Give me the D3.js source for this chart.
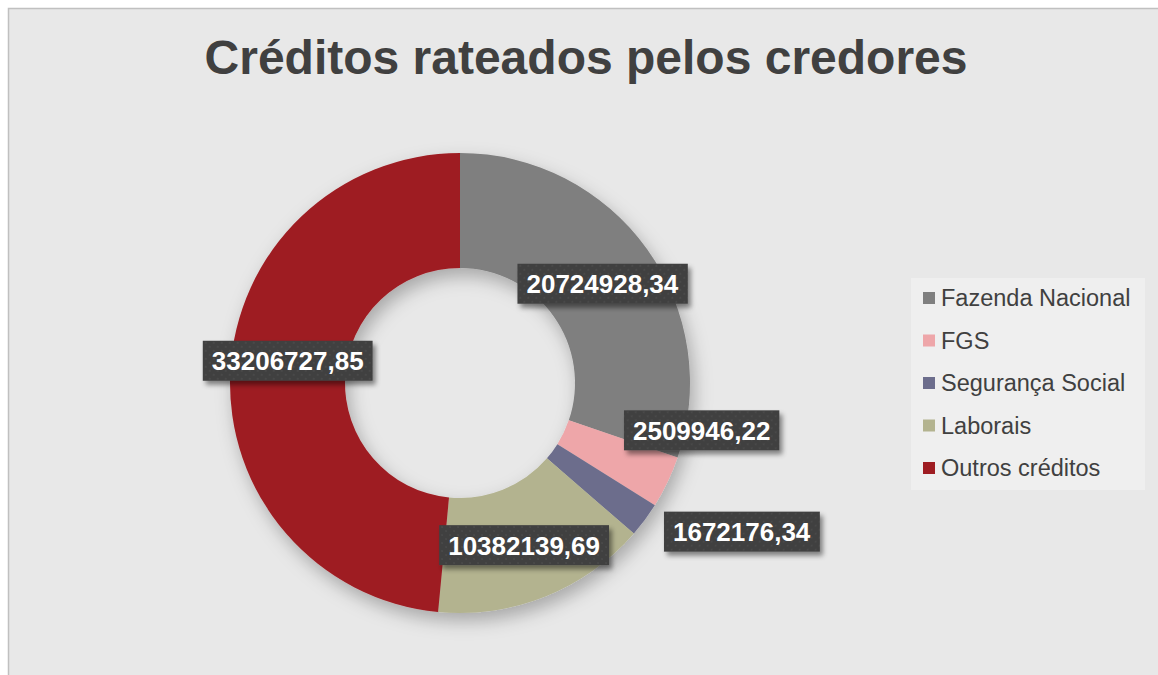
<!DOCTYPE html>
<html>
<head>
<meta charset="utf-8">
<script src="https://cdn.jsdelivr.net/npm/d3@7"></script>
<style>
  body { margin: 0; background: #fff; }
  svg { display: block; font-family: "Liberation Sans", Arial, sans-serif; }
</style>
</head>
<body>
<svg width="1158" height="675"></svg>
<script>
const categories = ["Fazenda Nacional", "FGS", "Segurança Social", "Laborais", "Outros créditos"];
const values = [20724928.34, 2509946.22, 1672176.34, 10382139.69, 33206727.85];
const valueLabels = ["20724928,34", "2509946,22", "1672176,34", "10382139,69", "33206727,85"];
const colors = ["#7f7f7f", "#eea6a9", "#6c6d8c", "#b3b38f", "#9e1c22"];

// manual label nudges (px) relative to the arc centroid
const labelShift = [[2, 1], [86, -27], [143, 46], [0, 2], [0, -14]];

const W = 1158, H = 675;
const cx = 460, cy = 383;
const outerR = 230, innerR = 115;

const svg = d3.select("svg");
const defs = svg.append("defs");

const sh = defs.append("filter").attr("id", "donutShadow")
    .attr("x", "-20%").attr("y", "-20%").attr("width", "140%").attr("height", "140%");
sh.append("feDropShadow").attr("dx", 4).attr("dy", 8).attr("stdDeviation", 9)
    .attr("flood-color", "#000").attr("flood-opacity", 0.28);

const bs = defs.append("filter").attr("id", "boxShadow")
    .attr("x", "-20%").attr("y", "-30%").attr("width", "140%").attr("height", "170%");
bs.append("feDropShadow").attr("dx", 3).attr("dy", 4).attr("stdDeviation", 2.5)
    .attr("flood-color", "#000").attr("flood-opacity", 0.45);

const pat = defs.append("pattern").attr("id", "dots")
    .attr("width", 8).attr("height", 8).attr("patternUnits", "userSpaceOnUse");
pat.append("rect").attr("width", 8).attr("height", 8).attr("fill", "#404040");
pat.append("circle").attr("cx", 2).attr("cy", 2).attr("r", 1).attr("fill", "#4b4b4b");
pat.append("circle").attr("cx", 6).attr("cy", 6).attr("r", 1).attr("fill", "#4b4b4b");

// chart area
svg.append("rect").attr("x", 8.5).attr("y", 8.5).attr("width", W).attr("height", H)
    .attr("fill", "#e8e8e8").attr("stroke", "#c0c0c0").attr("stroke-width", 1.5);

svg.append("text")
    .attr("x", 586).attr("y", 74)
    .attr("text-anchor", "middle")
    .attr("font-size", 48).attr("font-weight", "bold")
    .attr("fill", "#404040")
    .text("Créditos rateados pelos credores");

const pie = d3.pie().sort(null).value(d => d)(values);
const arc = d3.arc().innerRadius(innerR).outerRadius(outerR);
const midArc = d3.arc().innerRadius((innerR + outerR) / 2).outerRadius((innerR + outerR) / 2);

const g = svg.append("g").attr("transform", `translate(${cx},${cy})`);

g.append("g").attr("filter", "url(#donutShadow)")
  .selectAll("path")
  .data(pie)
  .join("path")
    .attr("d", arc)
    .attr("fill", (d, i) => colors[i]);

// data labels
const lab = g.selectAll("g.lab")
  .data(pie)
  .join("g")
    .attr("class", "lab")
    .attr("transform", (d, i) => {
      const c = midArc.centroid(d);
      return `translate(${c[0] + labelShift[i][0]},${c[1] + labelShift[i][1]})`;
    });

lab.append("text")
    .attr("text-anchor", "middle")
    .attr("dy", "0.36em")
    .attr("font-size", 26).attr("font-weight", "bold")
    .attr("fill", "#fff")
    .text((d, i) => valueLabels[i])
    .each(function() {
      const b = this.getBBox();
      d3.select(this.parentNode).insert("rect", "text")
        .attr("x", b.x - 9).attr("y", -20)
        .attr("width", b.width + 18).attr("height", 40)
        .attr("fill", "url(#dots)")
        .attr("filter", "url(#boxShadow)");
    });

// legend
const lg = svg.append("g").attr("transform", "translate(911,278)");
lg.append("rect").attr("width", 234).attr("height", 212).attr("fill", "#efefef");

const item = lg.selectAll("g.item")
  .data(categories)
  .join("g")
    .attr("class", "item")
    .attr("transform", (d, i) => `translate(12,${20 + i * 42.5})`);

item.append("rect")
    .attr("x", 0).attr("y", -6).attr("width", 12).attr("height", 12)
    .attr("fill", (d, i) => colors[i]);

item.append("text")
    .attr("x", 18).attr("dy", "0.36em")
    .attr("font-size", 23.5)
    .attr("fill", "#404040")
    .text(d => d);
</script>
</body>
</html>
